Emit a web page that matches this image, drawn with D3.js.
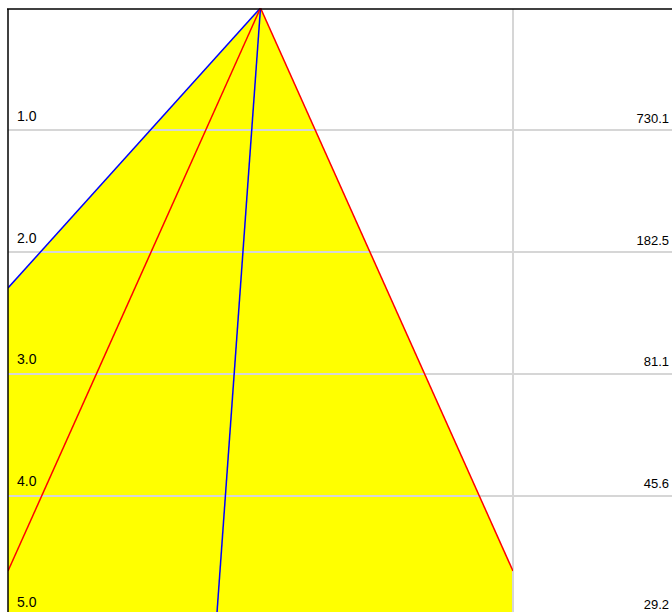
<!DOCTYPE html>
<html lang="en">

<head>
  <meta charset="utf-8">
  <title>Levels</title>
  <script type="text/javascript" src="https://cdn.jsdelivr.net/npm/d3@7"></script>
  <style>
    body { margin: 0; background: #fff; }
    svg { display: block; }
    text { font-family: Arial, "Liberation Sans", sans-serif; font-size: 14px; fill: #000; }
  </style>
</head>

<body>
  <svg class="chart"></svg>
  <script type="text/javascript">
    // data
    var levels = [1, 2, 3, 4, 5];
    var leftLabels = ["1.0", "2.0", "3.0", "4.0", "5.0"];
    var rightLabels = ["730.1", "182.5", "81.1", "45.6", "29.2"];
    var blueLines = [
      [[0.5, 0], [0, 2.295]],
      [[0.5, 0], [0.4096, 5.2]]
    ];
    var redLines = [
      [[0.5, 0], [0, 4.615]],
      [[0.5, 0], [1, 4.615]]
    ];
    var area = [[0.5, 0], [0, 2.295], [0, 5.2], [1, 5.2], [1, 4.615]];

    var w = 672;
    var h = 612;

    var svg = d3.select("svg")
      .attr("width", w)
      .attr("height", h);

    var x = d3.scaleLinear().domain([0, 1]).range([8, 513]);
    var y = d3.scaleLinear().domain([0, 5]).range([8, 618]);
    // label baselines (the bottom ones sit a bit higher so they stay in view)
    var yLab = d3.scaleLinear().domain([1, 5]).range([121, 607]);

    svg.append("clipPath").attr("id", "clip")
      .append("rect")
      .attr("x", 8).attr("y", 8)
      .attr("width", 505).attr("height", h - 8);

    var line = d3.line()
      .x(function(d) { return x(d[0]); })
      .y(function(d) { return y(d[1]); });

    // yellow area
    svg.append("path")
      .attr("clip-path", "url(#clip)")
      .attr("d", line(area) + "Z")
      .attr("fill", "#ffff00");

    // horizontal grid lines
    svg.selectAll(".grid")
      .data(levels)
      .enter()
      .append("line")
      .attr("class", "grid")
      .attr("x1", 8)
      .attr("x2", w)
      .attr("y1", function(d) { return y(d); })
      .attr("y2", function(d) { return y(d); })
      .attr("stroke", "#d6d6d6")
      .attr("stroke-width", 2);

    // vertical line
    svg.append("line")
      .attr("x1", x(1)).attr("x2", x(1))
      .attr("y1", 9).attr("y2", h)
      .attr("stroke", "#d6d6d6")
      .attr("stroke-width", 2);

    // lines
    svg.selectAll(".blue")
      .data(blueLines)
      .enter()
      .append("path")
      .attr("class", "blue")
      .attr("clip-path", "url(#clip)")
      .attr("d", line)
      .attr("fill", "none")
      .attr("stroke", "#0000ff")
      .attr("stroke-width", 1.5);

    svg.selectAll(".red")
      .data(redLines)
      .enter()
      .append("path")
      .attr("class", "red")
      .attr("clip-path", "url(#clip)")
      .attr("d", line)
      .attr("fill", "none")
      .attr("stroke", "#ff0000")
      .attr("stroke-width", 1.5);

    // border
    svg.append("line")
      .attr("x1", 7).attr("x2", w)
      .attr("y1", 9).attr("y2", 9)
      .attr("stroke", "#000")
      .attr("stroke-width", 1.5);
    svg.append("line")
      .attr("x1", 8).attr("x2", 8)
      .attr("y1", 9).attr("y2", h)
      .attr("stroke", "#000")
      .attr("stroke-width", 1.5);

    // labels
    svg.selectAll(".lab-left")
      .data(levels)
      .enter()
      .append("text")
      .attr("class", "lab-left")
      .attr("x", 17)
      .attr("y", function(d) { return yLab(d); })
      .text(function(d, i) { return leftLabels[i]; });

    svg.selectAll(".lab-right")
      .data(levels)
      .enter()
      .append("text")
      .attr("class", "lab-right")
      .attr("x", 669)
      .attr("y", function(d) { return yLab(d) + 2; })
      .attr("text-anchor", "end")
      .style("font-size", "13px")
      .text(function(d, i) { return rightLabels[i]; });
  </script>
</body>

</html>
